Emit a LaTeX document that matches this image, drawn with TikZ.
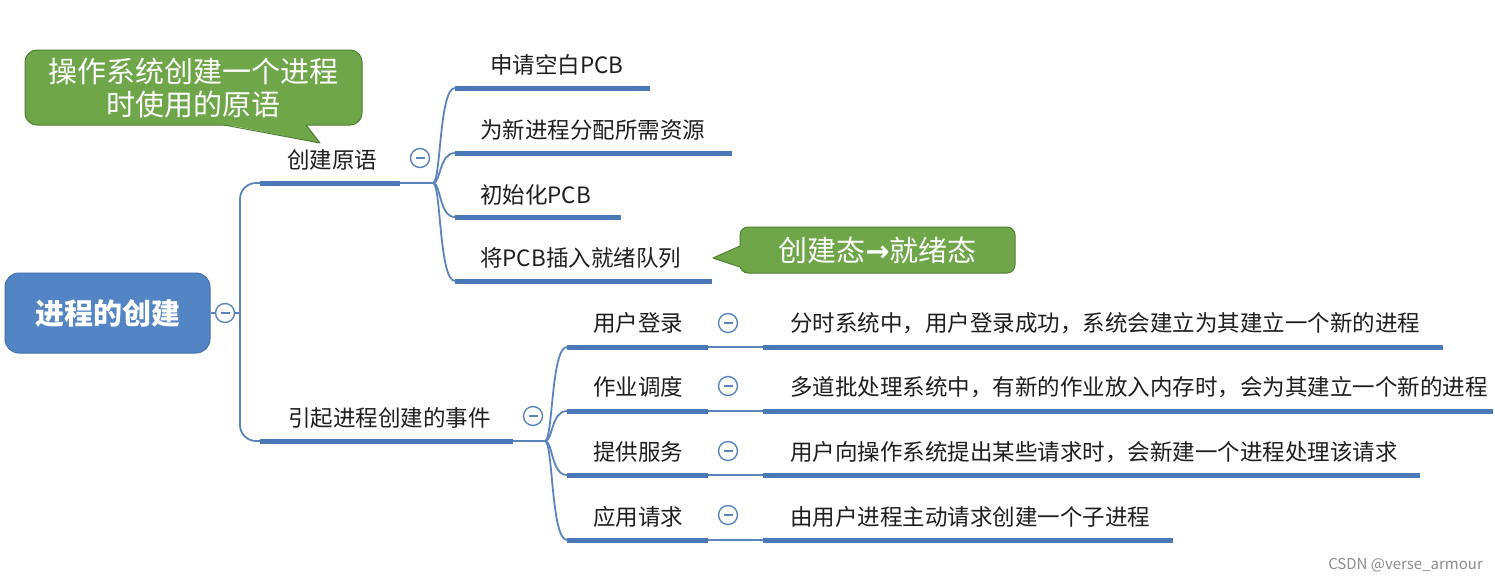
\documentclass[tikz,border=0pt]{standalone}
\usepackage{fontspec}
\newfontfamily\cjk{Noto Sans CJK SC}
\newfontfamily\dv{DejaVu Sans}
\definecolor{lineblue}{HTML}{5B84BD}
\definecolor{ulblue}{HTML}{4A78B8}
\definecolor{rootblue}{HTML}{5384C4}
\definecolor{rootborder}{HTML}{4470AE}
\definecolor{calgreen}{HTML}{6FA64A}
\definecolor{calborder}{HTML}{4F7F30}
\definecolor{txt}{HTML}{1E1E1E}
\begin{document}
\begin{tikzpicture}[x=1pt,y=-1pt,
 lbl/.style={font=\cjk\fontsize{22.5}{25}\selectfont, text=txt, inner sep=0pt, anchor=west},
 ul/.style={draw=ulblue, line width=5pt},
 conn/.style={draw=lineblue, line width=1.8pt},
 tog/.style={circle, draw=lineblue, line width=1.4pt, fill=white, minimum size=19pt, inner sep=0pt,
   path picture={\draw[lineblue, line width=1.4pt] ([xshift=-4.5pt]path picture bounding box.center) -- ([xshift=4.5pt]path picture bounding box.center);}},
 callout/.style={draw=calborder, line width=1pt, fill=calgreen, rounded corners=12pt, text=white,
   font=\cjk\fontsize{29}{33}\selectfont, align=center, inner sep=0pt},
]
\fill[white] (0,0) rectangle (1495,584);
\useasboundingbox (0,0) rectangle (1495,584);

% root
\node[draw=rootborder, line width=1pt, fill=rootblue, rounded corners=14pt, minimum width=205pt,
  minimum height=80pt, text=white, font=\cjk\bfseries\fontsize{29}{32}\selectfont] (root) at (107.5,313) {进程的创建};
\coordinate (trunk) at (240,313);

% level 1 coordinates
\coordinate (a0) at (260,183); \coordinate (a1) at (400,183); \coordinate (ab) at (433,183);
\coordinate (b0) at (260,441); \coordinate (b1) at (513,441); \coordinate (bb) at (545,441);

\draw[conn] (root.east) -- (trunk);
\draw[conn, rounded corners=16pt] (a0) -| (trunk) |- (b0);
\draw[conn] (a1) -- (ab);
\draw[conn] (b1) -- (bb);
\draw[ul] (a0) -- (a1);
\draw[ul] (b0) -- (b1);
\node[lbl] (A) at (287,160) {创建原语};
\node[lbl] (B) at (288,418) {引起进程创建的事件};

% children of A
\foreach \n/\y/\e in {1/88/650, 2/153/732, 3/217/621, 4/281/712}{
  \coordinate (as\n) at (455,\y);
  \coordinate (ae\n) at (\e,\y);
  \draw[conn] (ab) .. controls (441,183) and (439,\y) .. (as\n);
  \draw[ul] (as\n) -- (ae\n);
}
\node[lbl] (A1) at (490,65) {申请空白PCB};
\node[lbl] (A2) at (480,130) {为新进程分配所需资源};
\node[lbl] (A3) at (480,195) {初始化PCB};
\node[lbl] (A4) at (480,258) {将PCB插入就绪队列};

% children of B
\foreach \n/\y/\e in {1/347/1443, 2/411/1493, 3/475/1420, 4/540/1173}{
  \coordinate (bs\n) at (567,\y);
  \coordinate (bm\n) at (708,\y);
  \coordinate (cs\n) at (763,\y);
  \coordinate (ce\n) at (\e,\y);
  \draw[conn] (bb) .. controls (553,441) and (551,\y) .. (bs\n);
  \draw[conn] (bm\n) -- (cs\n);
  \draw[ul] (bs\n) -- (bm\n);
  \draw[ul] (cs\n) -- (ce\n);
}
\node[lbl] (B1) at (593,323) {用户登录};
\node[lbl] (B2) at (593,387) {作业调度};
\node[lbl] (B3) at (593,452) {提供服务};
\node[lbl] (B4) at (593,517) {应用请求};
\node[lbl] (C1) at (790,323) {分时系统中，用户登录成功，系统会建立为其建立一个新的进程};
\node[lbl] (C2) at (790,387) {多道批处理系统中，有新的作业放入内存时，会为其建立一个新的进程};
\node[lbl] (C3) at (790,452) {用户向操作系统提出某些请求时，会新建一个进程处理该请求};
\node[lbl] (C4) at (790,517) {由用户进程主动请求创建一个子进程};

% toggles
\node[tog] (t0) at (225,313) {};
\node[tog] (tA) at (420,158) {};
\node[tog] (tB) at (533,416) {};
\node[tog] (tB1) at (728,323) {};
\node[tog] (tB2) at (728,386) {};
\node[tog] (tB3) at (728,451) {};
\node[tog] (tB4) at (728,515) {};

% callout 1
\node[callout, minimum width=337pt, minimum height=75pt] (c1) at (193.5,87.5) {操作系统创建一个进程\\时使用的原语};
\fill[calgreen] (224,124) -- (320,143) -- (306,124) -- cycle;
\draw[calborder, line width=1pt, line join=round] (224,125) -- (320,143) -- (306,125);

% callout 2
\node[callout, rounded corners=8pt, minimum width=275pt, minimum height=46pt] (c2) at (877.5,250) {创建态{\dv\bfseries →}就绪态};
\fill[calgreen] (741,246) -- (713,258) -- (741,267) -- cycle;
\draw[calborder, line width=1pt, line join=round] (740,246) -- (713,258) -- (740,267);

% watermark
\node[font=\cjk\fontsize{15}{16}\selectfont, text=black!45, anchor=east, inner sep=0pt] (wm) at (1483,565) {CSDN @verse\_armour};
\end{tikzpicture}
\end{document}
